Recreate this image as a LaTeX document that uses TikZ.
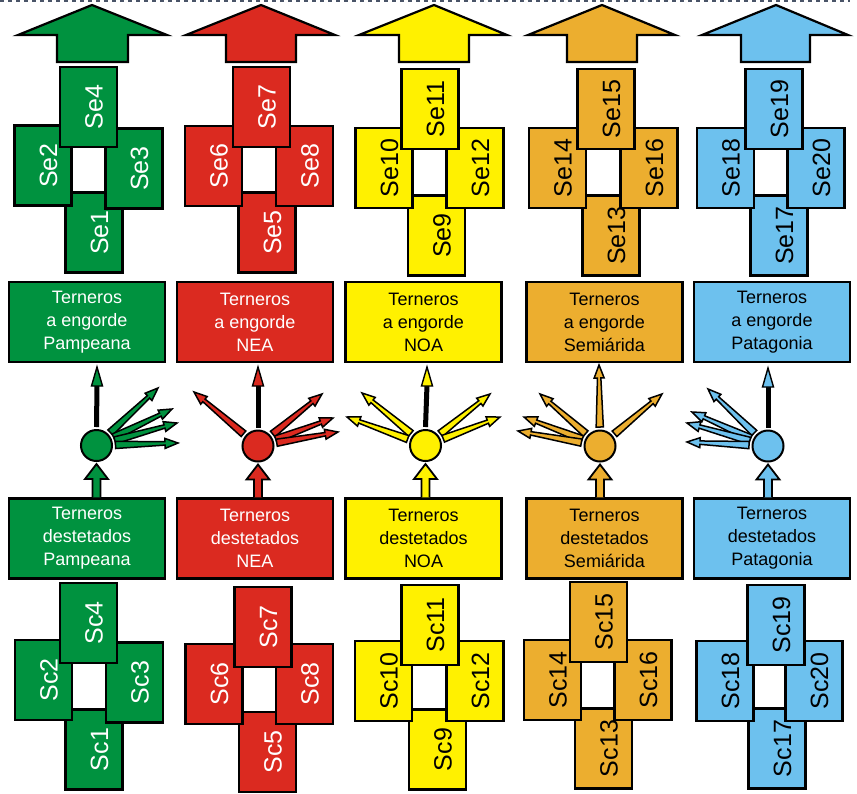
\documentclass[tikz,border=0pt]{standalone}
\usepackage{fontspec}
\setmainfont{Liberation Sans}
\usetikzlibrary{calc}
\definecolor{cgreen}{HTML}{00923F}
\definecolor{cred}{HTML}{DB2A20}
\definecolor{cyellow}{HTML}{FFF100}
\definecolor{corange}{HTML}{ECAE2F}
\definecolor{cblue}{HTML}{6DC1EE}
\definecolor{cslate}{HTML}{4A5568}
\tikzset{
  xbox/.style={draw=black, line width=2.3pt, rotate=90, minimum width=80pt, minimum height=57pt,
    inner sep=0pt, font=\fontsize{25}{25}\selectfont, text height=28pt, text depth=0pt},
  lbox/.style={draw=black, line width=2.3pt, minimum width=156pt, minimum height=80pt,
    inner sep=0pt, align=center, font=\fontsize{18}{23}\selectfont},
  hub/.style={circle, draw=black, line width=2pt, minimum size=31pt, inner sep=0pt},
  shape line/.style={draw=black, line width=2.2pt, line join=miter},
}
% big block arrow on top: colour, left wing, apex x, right wing, shaft left, shaft right
\newcommand{\bigup}[6]{%
  \filldraw[shape line, fill=#1] (#2,35) -- (#3,5) -- (#4,35) -- (#6,35) -- (#6,62) -- (#5,62) -- (#5,35) -- cycle;}
% thin needle arrow from a hub towards a tip coordinate
\newcommand{\needle}[3]{%
  \coordinate (nS) at ($(#2)!19pt!(#3)$);
  \coordinate (nH) at ($(#3)!13pt!(#2)$);
  \filldraw[fill=#1, draw=black, line width=1.5pt, line join=miter, miter limit=20]
    ($(nS)!3.6pt!90:(#3)$) -- ($(nH)!1.7pt!90:(#3)$) -- ($(nH)!5pt!90:(#3)$) -- (#3)
    -- ($(nH)!5pt!-90:(#3)$) -- ($(nH)!1.7pt!-90:(#3)$) -- ($(nS)!3.6pt!-90:(#3)$) -- cycle;}
% vertical arrow: black shaft, coloured head
\newcommand{\vup}[3]{%
  \coordinate (vH) at ($(#3)+(0,18)$);
  \draw[line width=5pt] ($(#2.north)+(0,-2)$) -- (vH);
  \filldraw[fill=#1, draw=black, line width=1.4pt, line join=miter, miter limit=20]
    (#3) -- ($(vH)+(5.5,1)$) -- ($(vH)+(-5.5,1)$) -- cycle;}
% small block arrow from the lower box up into the hub
\newcommand{\blockup}[3]{%
  \filldraw[fill=#1, draw=black, line width=1.8pt, line join=miter]
    let \p1=($(#2.south)+(0,2)$), \p2=(#3.north) in
    (\x1-4pt,\y2) -- (\x1-4pt,\y1-15pt) -- (\x1-11.5pt,\y1-15pt) -- (\x1,\y1)
    -- (\x1+11.5pt,\y1-15pt) -- (\x1+4pt,\y1-15pt) -- (\x1+4pt,\y2);}
\begin{document}
\begin{tikzpicture}[x=1pt,y=-1pt]
\useasboundingbox (0,0) rectangle (857,793);
\fill[white] (0,0) rectangle (857,793);
\draw[cslate, line width=1.6pt, dash pattern=on 4pt off 4pt] (0,1) -- (850,1);

% ---------------- Pampeana (green)
\bigup{cgreen}{18}{92}{167}{57}{128}
\node[xbox,fill=cgreen,text=white] (se1) at (94,232.5) {Se1};
\node[xbox,fill=cgreen,text=white] (se2) at (43,165.5) {Se2};
\node[xbox,fill=cgreen,text=white] (se3) at (134,168.5) {Se3};
\node[xbox,fill=cgreen,text=white] (se4) at (88.5,107) {Se4};
\node[lbox,fill=cgreen,text=white] (eng1) at (87,322) {Terneros\\a engorde\\Pampeana};
\node[hub,fill=cgreen] (h1) at (96.5,445.5) {};
\coordinate (g1) at (158,388);
\coordinate (g2) at (172,409);
\coordinate (g3) at (177,423);
\coordinate (g4) at (178,443);
\coordinate (gv) at (97,367);
\needle{cgreen}{h1}{g1}
\needle{cgreen}{h1}{g2}
\needle{cgreen}{h1}{g3}
\needle{cgreen}{h1}{g4}
\vup{cgreen}{h1}{gv}
\node[lbox,fill=cgreen,text=white] (des1) at (87,538.5) {Terneros\\destetados\\Pampeana};
\blockup{cgreen}{h1}{des1}
\node[xbox,fill=cgreen,text=white] (sc1) at (94,749.5) {Sc1};
\node[xbox,fill=cgreen,text=white] (sc2) at (43.5,680) {Sc2};
\node[xbox,fill=cgreen,text=white] (sc3) at (134.5,682.5) {Sc3};
\node[xbox,fill=cgreen,text=white] (sc4) at (88.5,623) {Sc4};

% ---------------- NEA (red)
\bigup{cred}{186}{261}{335}{226}{296}
\node[xbox,fill=cred,text=white] (se5) at (267,232.5) {Se5};
\node[xbox,fill=cred,text=white] (se6) at (213.5,166) {Se6};
\node[xbox,fill=cred,text=white] (se8) at (304.5,166) {Se8};
\node[xbox,fill=cred,text=white] (se7) at (261.5,107) {Se7};
\node[lbox,fill=cred,text=white] (eng2) at (255,322) {Terneros\\a engorde\\NEA};
\node[hub,fill=cred] (h2) at (258,446) {};
\coordinate (r1) at (194,392);
\coordinate (r2) at (322,394);
\coordinate (r3) at (333,418);
\coordinate (r4) at (338,432);
\coordinate (rv) at (258,367);
\needle{cred}{h2}{r1}
\needle{cred}{h2}{r2}
\needle{cred}{h2}{r3}
\needle{cred}{h2}{r4}
\vup{cred}{h2}{rv}
\node[lbox,fill=cred,text=white] (des2) at (255,538.5) {Terneros\\destetados\\NEA};
\blockup{cred}{h2}{des2}
\node[xbox,fill=cred,text=white] (sc5) at (267.5,752) {Sc5};
\node[xbox,fill=cred,text=white] (sc6) at (214,684) {Sc6};
\node[xbox,fill=cred,text=white] (sc8) at (304.5,684) {Sc8};
\node[xbox,fill=cred,text=white] (sc7) at (263,627) {Sc7};

% ---------------- NOA (yellow)
\bigup{cyellow}{359}{434}{507}{399}{469}
\node[xbox,fill=cyellow] (se9) at (436.5,235.5) {Se9};
\node[xbox,fill=cyellow] (se10) at (384,168) {Se10};
\node[xbox,fill=cyellow] (se12) at (475,168) {Se12};
\node[xbox,fill=cyellow] (se11) at (430,109) {Se11};
\node[lbox,fill=cyellow] (eng3) at (423.5,322) {Terneros\\a engorde\\NOA};
\node[hub,fill=cyellow] (h3) at (425.5,445.5) {};
\coordinate (y1) at (362,393);
\coordinate (y2) at (347,417);
\coordinate (y3) at (490,394);
\coordinate (y4) at (500,417);
\coordinate (yv) at (427,367);
\needle{cyellow}{h3}{y1}
\needle{cyellow}{h3}{y2}
\needle{cyellow}{h3}{y3}
\needle{cyellow}{h3}{y4}
\vup{cyellow}{h3}{yv}
\node[lbox,fill=cyellow] (des3) at (423.5,538.5) {Terneros\\destetados\\NOA};
\blockup{cyellow}{h3}{des3}
\node[xbox,fill=cyellow] (sc9) at (437.5,749.5) {Sc9};
\node[xbox,fill=cyellow] (sc10) at (383.5,681) {Sc10};
\node[xbox,fill=cyellow] (sc12) at (475,681) {Sc12};
\node[xbox,fill=cyellow] (sc11) at (430,625) {Sc11};

% ---------------- Semiarida (orange)
\bigup{corange}{528}{602}{675}{567}{637}
\node[xbox,fill=corange] (se13) at (611,235.5) {Se13};
\node[xbox,fill=corange] (se14) at (557.5,168) {Se14};
\node[xbox,fill=corange] (se16) at (649,168) {Se16};
\node[xbox,fill=corange] (se15) at (606,109) {Se15};
\node[lbox,fill=corange] (eng4) at (604.5,322) {Terneros\\a engorde\\Semiárida};
\node[hub,fill=corange] (h4) at (600,446) {};
\coordinate (o1) at (540,394);
\coordinate (o2) at (524,417);
\coordinate (o3) at (518,431);
\coordinate (o4) at (662,394);
\coordinate (ov) at (599,365);
\needle{corange}{h4}{o1}
\needle{corange}{h4}{o2}
\needle{corange}{h4}{o3}
\needle{corange}{h4}{o4}
\needle{corange}{h4}{ov}
\node[lbox,fill=corange] (des4) at (604.5,538.5) {Terneros\\destetados\\Semiárida};
\blockup{corange}{h4}{des4}
\node[xbox,fill=corange] (sc13) at (603.5,748.5) {Sc13};
\node[xbox,fill=corange] (sc14) at (552.5,680) {Sc14};
\node[xbox,fill=corange] (sc16) at (643,680) {Sc16};
\node[xbox,fill=corange] (sc15) at (598.5,622) {Sc15};

% ---------------- Patagonia (blue)
\bigup{cblue}{702}{776}{848}{741}{810}
\node[xbox,fill=cblue] (se17) at (779,235.5) {Se17};
\node[xbox,fill=cblue] (se18) at (725.5,168) {Se18};
\node[xbox,fill=cblue] (se20) at (816,168) {Se20};
\node[xbox,fill=cblue] (se19) at (774,109) {Se19};
\node[lbox,fill=cblue] (eng5) at (772,322) {Terneros\\a engorde\\Patagonia};
\node[hub,fill=cblue] (h5) at (768,446) {};
\coordinate (b1) at (708,389);
\coordinate (b2) at (692,412);
\coordinate (b3) at (687,423);
\coordinate (b4) at (687,442);
\coordinate (bv) at (768,368);
\needle{cblue}{h5}{b1}
\needle{cblue}{h5}{b2}
\needle{cblue}{h5}{b3}
\needle{cblue}{h5}{b4}
\vup{cblue}{h5}{bv}
\node[lbox,fill=cblue] (des5) at (772,538.5) {Terneros\\destetados\\Patagonia};
\blockup{cblue}{h5}{des5}
\node[xbox,fill=cblue] (sc17) at (777,748.5) {Sc17};
\node[xbox,fill=cblue] (sc18) at (725,681) {Sc18};
\node[xbox,fill=cblue] (sc20) at (814,681) {Sc20};
\node[xbox,fill=cblue] (sc19) at (776,625) {Sc19};
\end{tikzpicture}
\end{document}
